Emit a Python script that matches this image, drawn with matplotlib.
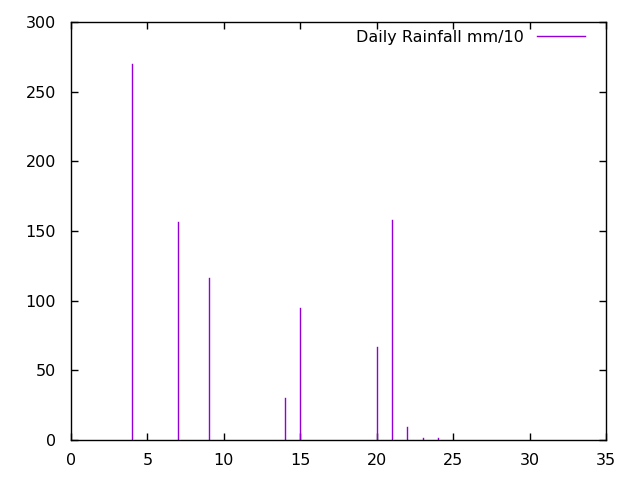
import matplotlib
matplotlib.use("Agg")
import matplotlib.pyplot as plt

# daily rainfall (mm/10)
days = [4, 7, 9, 14, 15, 20, 21, 22, 23, 24]
rain = [270, 156.5, 116.5, 30, 95, 67, 158, 9, 1.5, 1.5]

plt.rcParams["font.family"] = "DejaVu Sans"
plt.rcParams["font.size"] = 11.5

fig = plt.figure(figsize=(6.4, 4.8), dpi=100)
ax = fig.add_axes([0.111, 0.0833, 0.836, 0.8705])

# one line per day, like gnuplot impulses
for d, r in zip(days, rain):
    ax.plot([d, d], [0, r], color="#9400d3", linewidth=1.0, snap=True)
ax.plot([], [], color="#9400d3", linewidth=1.0, label="Daily Rainfall mm/10")

ax.set_xlim(0, 35)
ax.set_ylim(0, 300)
ax.set_xticks(range(0, 36, 5))
ax.set_yticks(range(0, 301, 50))
ax.tick_params(direction="in", top=True, right=True, length=5, width=1,
               labeltop=False, labelright=False)
ax.tick_params(axis="x", pad=9.5)
ax.tick_params(axis="y", pad=11)
for s in ax.spines.values():
    s.set_linewidth(1)

leg = ax.legend(loc="upper right", frameon=False, markerfirst=False,
                handlelength=3.0, handletextpad=0.85, borderaxespad=0,
                bbox_to_anchor=(0.9727, 0.997))

fig.savefig("out.png", dpi=100)
